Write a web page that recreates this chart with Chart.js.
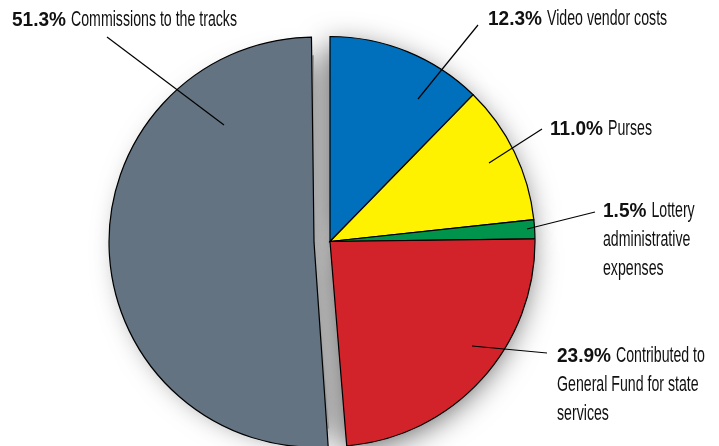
<!DOCTYPE html>
<html>
<head>
<meta charset="utf-8">
<script src="https://cdn.jsdelivr.net/npm/chart.js@4"></script>
<style>
  html, body { margin: 0; padding: 0; background: #ffffff; }
  #wrap { width: 719px; height: 446px; }
</style>
</head>
<body>
<div id="wrap"><canvas id="pieChart" width="719" height="446"></canvas></div>
<script>
const categories = ['Video vendor costs', 'Purses', 'Lottery administrative expenses',
  'Contributed to General Fund for state services', 'Commissions to the tracks'];
const shares = [12.3, 11.0, 1.5, 23.9, 51.3];
const sliceColors = ['#0070bd', '#fff200', '#00934b', '#d2232a', '#637382'];
const pctLabels = ['12.3%', '11.0%', '1.5%', '23.9%', '51.3%'];
// label text split in lines, as printed
const labelLines = [
  ['Video vendor costs'],
  ['Purses'],
  ['Lottery', 'administrative', 'expenses'],
  ['Contributed to', 'General Fund for state', 'services'],
  ['Commissions to the tracks']
];

// where the callouts sit (text start, baseline of first line, leader line ends)
const callouts = [
  { x: 488, y: 25, from: [478, 25], to: [418, 99] },
  { x: 550, y: 135, from: [542, 129], to: [489, 163] },
  { x: 603, y: 217, from: [595, 212], to: [527, 229] },
  { x: 557, y: 362, from: [547, 353], to: [472, 346] },
  { x: 12, y: 26, from: [107, 37], to: [224, 125] }
];
const lineGap = 29;
const fontFam = '"Liberation Sans", Arial, sans-serif';
const explode = 64; // chart.js moves an arc by offset/4

// keep the exploded slice the same radius as the others
const radiusFix = {
  id: 'radiusFix',
  afterDatasetUpdate(chart, args) {
    args.meta.data.forEach(arc => {
      const off = arc.options.offset || 0;
      if (off && arc.circumference > Math.PI) arc.outerRadius -= off / 4;
    });
  }
};

// soft drop shadow under the pie, drawn before the slices
const shadowPlugin = {
  id: 'pieShadow',
  beforeDatasetsDraw(chart) {
    const ctx = chart.ctx;
    const meta = chart.getDatasetMeta(0);
    ctx.save();
    ctx.shadowColor = 'rgba(0,0,0,0.62)';
    ctx.shadowBlur = 30;
    ctx.shadowOffsetX = -3;
    ctx.shadowOffsetY = 7;
    meta.data.forEach(arc => {
      const off = (arc.options.offset || 0) / 4;
      const mid = (arc.startAngle + arc.endAngle) / 2;
      const cx = arc.x + Math.cos(mid) * off;
      const cy = arc.y + Math.sin(mid) * off;
      ctx.beginPath();
      ctx.moveTo(cx, cy);
      ctx.arc(cx, cy, arc.outerRadius - 2, arc.startAngle, arc.endAngle);
      ctx.closePath();
      ctx.fillStyle = '#999';
      ctx.fill();
    });
    ctx.restore();
  }
};

const calloutPlugin = {
  id: 'callouts',
  afterDatasetsDraw(chart) {
    const ctx = chart.ctx;
    ctx.save();
    const boldFont = 'bold 21px ' + fontFam;
    const regFont = '22px ' + fontFam;
    ctx.font = boldFont;
    const bs = 54 / ctx.measureText('51.3%').width;
    ctx.font = regFont;
    const rs = 166 / ctx.measureText('Commissions to the tracks').width;

    const put = (txt, x, y, s) => {
      ctx.save();
      ctx.translate(x, y);
      ctx.scale(s, 1);
      ctx.fillText(txt, 0, 0);
      ctx.restore();
    };

    callouts.forEach((c, i) => {
      ctx.strokeStyle = '#000';
      ctx.lineWidth = 1.2;
      ctx.beginPath();
      ctx.moveTo(c.from[0], c.from[1]);
      ctx.lineTo(c.to[0], c.to[1]);
      ctx.stroke();

      ctx.fillStyle = '#111';
      ctx.textBaseline = 'alphabetic';
      ctx.textAlign = 'left';
      ctx.font = boldFont;
      put(pctLabels[i], c.x, c.y, bs);
      const w = ctx.measureText(pctLabels[i]).width * bs + 5;
      ctx.font = regFont;
      labelLines[i].forEach((t, k) => {
        if (k === 0) put(t, c.x + w, c.y, rs);
        else put(t, c.x, c.y + k * lineGap, rs);
      });
    });
    ctx.restore();
  }
};

new Chart(document.getElementById('pieChart'), {
  type: 'pie',
  data: {
    labels: categories,
    datasets: [{
      data: shares,
      backgroundColor: sliceColors,
      borderColor: '#000000',
      borderWidth: 1.2,
      borderJoinStyle: 'miter',
      offset: [0, 0, 0, 0, explode]
    }]
  },
  options: {
    responsive: false,
    animation: false,
    radius: 205,
    layout: { padding: { left: 0, right: 59, top: 37, bottom: 0 } },
    plugins: {
      legend: { display: false },
      tooltip: { enabled: false }
    }
  },
  plugins: [radiusFix, shadowPlugin, calloutPlugin]
});
</script>
</body>
</html>
